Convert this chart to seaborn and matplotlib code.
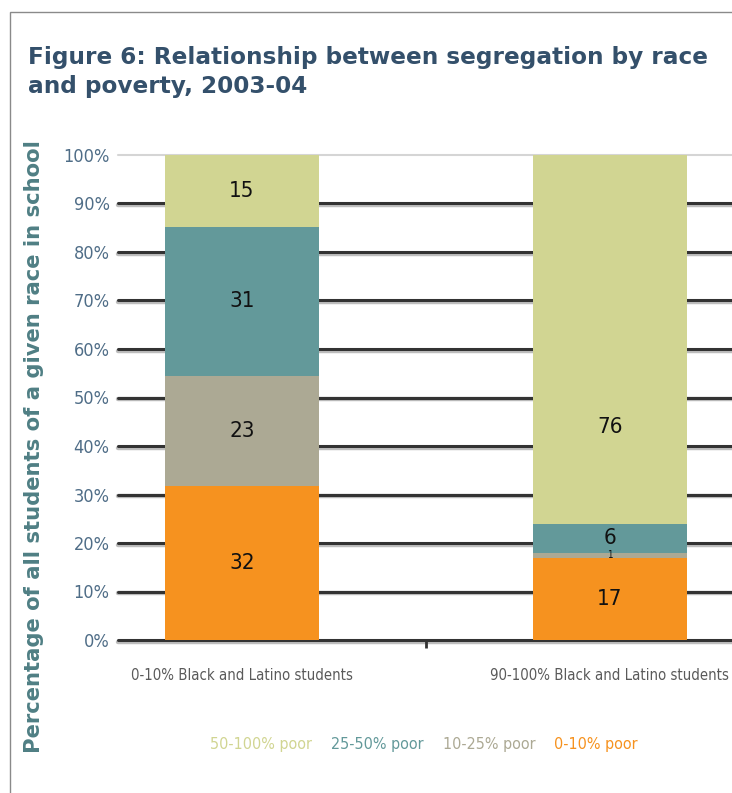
import numpy as np
import pandas as pd
import matplotlib.pyplot as plt
import seaborn as sns
from matplotlib.patches import Rectangle
from matplotlib.lines import Line2D

# Data
schools = ["0-10% Black and Latino students", "90-100% Black and Latino students"]
levels = ["50-100% poor", "25-50% poor", "10-25% poor", "0-10% poor"]
poor_50_100 = [15, 76]
poor_25_50 = [31, 6]
poor_10_25 = [23, 1]
poor_0_10 = [32, 17]
colors = ["#d1d592", "#63999a", "#aca994", "#f6921f"]
yticks = [0, 10, 20, 30, 40, 50, 60, 70, 80, 90, 100]

sns.set_theme(style="white")
plt.rcParams["font.family"] = ["DejaVu Sans"]
plt.rcParams["font.stretch"] = "condensed"

series = {"50-100% poor": poor_50_100, "25-50% poor": poor_25_50,
          "10-25% poor": poor_10_25, "0-10% poor": poor_0_10}
rows = []
for lev, vals in series.items():
    for s, v in zip(schools, vals):
        rows.append({"school": s, "level": lev, "value": v})
df = pd.DataFrame(rows)
# bars are drawn as shares of each column total (left column sums to 101)
df["share"] = df["value"] / df.groupby("school")["value"].transform("sum") * 100

fig = plt.figure(figsize=(7.32, 7.93), dpi=100)
ax = fig.add_axes([118 / 732, 1 - 640 / 793, 1 - 118 / 732, (640 - 155) / 793])

# grid lines behind the bars
for t in yticks[:-1]:
    ax.axhline(t - 0.35, color="#bdbdbd", lw=3.2, zorder=0, clip_on=False)
    ax.axhline(t, color="#333333", lw=2.2, zorder=0.5, clip_on=False)
ax.axhline(100, color="#d5d5d5", lw=1.5, zorder=0, clip_on=False)

sns.histplot(data=df, x="school", hue="level", weights="share",
             hue_order=levels, palette=colors, multiple="stack",
             discrete=True, shrink=0.42, alpha=1, linewidth=0,
             legend=False, ax=ax, zorder=2)

# segment labels (the big 76 label sits low in its segment in the original)
label_at = {(schools[1], "50-100% poor"): 44}
for i, s in enumerate(schools):
    sub = df[df["school"] == s].set_index("level").loc[levels[::-1]]
    base = 0
    for lev, r in sub.iterrows():
        mid = label_at.get((s, lev), base + r["share"] / 2)
        fs = 7 if r["value"] < 3 else 16
        ax.text(i, mid, f"{r['value']}", ha="center", va="center",
                fontsize=fs, color="#111111", zorder=3)
        base += r["share"]

ax.set_xlim(-0.337, 1.332)
ax.set_ylim(0, 100)
ax.set_yticks(yticks)
ax.set_yticklabels([f"{t}%" for t in yticks])
ax.set_xticks([0, 1])
ax.set_xticklabels(schools)
ax.set_xticks([0.5], minor=True)
ax.tick_params(axis="x", which="major", length=0, pad=20, labelsize=10.7,
               labelcolor="#5a5a5a")
ax.tick_params(axis="x", which="minor", length=6, width=2, color="#333333",
               bottom=True, direction="out")
ax.tick_params(axis="y", length=0, pad=6, labelsize=13, labelcolor="#4f6d87")
ax.set_xlabel("")
ax.set_ylabel("")
for sp in ax.spines.values():
    sp.set_visible(False)

# title and axis label
fig.text(28 / 732, 1 - 72 / 793, "Figure 6: Relationship between segregation by race\nand poverty, 2003-04",
         ha="left", va="center", fontsize=16.7, fontweight="bold", color="#34506b",
         stretch="normal", linespacing=1.35)
fig.text(34 / 732, 1 - 447 / 793, "Percentage of all students of a given race in school",
         rotation=90, ha="center", va="center", fontsize=15.2, fontweight="bold",
         color="#4f7f84", stretch="normal")

# legend as coloured text
handles = [Line2D([], [], color=c, lw=0) for c in colors]
fig.legend(handles, levels, loc="center", bbox_to_anchor=(424 / 732, 1 - 745 / 793),
           ncol=4, frameon=False, handlelength=0, handletextpad=0,
           columnspacing=1.2, fontsize=11.5, labelcolor=colors)

# frame border around the figure panel
fig.add_artist(Rectangle((10 / 732, -0.1), 1.2, 1.1 - 12 / 793,
                         transform=fig.transFigure, fill=False,
                         edgecolor="#8a8a8a", lw=1))

fig.savefig("out.png", dpi=100)
